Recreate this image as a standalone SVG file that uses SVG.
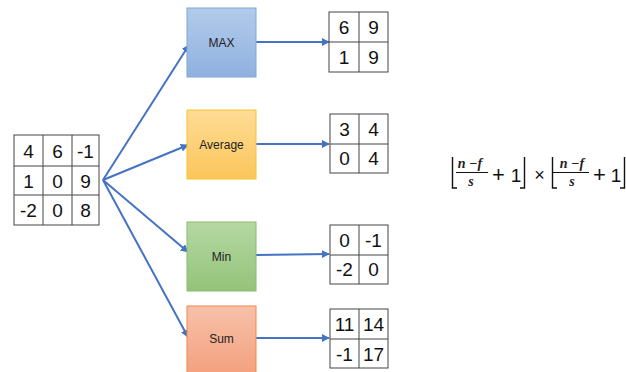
<svg xmlns="http://www.w3.org/2000/svg" width="626" height="372" viewBox="0 0 626 372">
<style>
.g{fill:#fff;stroke:#444;stroke-width:1}
.gl{stroke:#444;stroke-width:1;fill:none}
.n{font-family:"Liberation Sans",Arial,sans-serif;font-size:19px;fill:#111;text-anchor:middle}
.lb{font-family:"Liberation Sans",Arial,sans-serif;font-size:12px;fill:#222;text-anchor:middle}
.c{stroke:#4472c4;stroke-width:2;fill:none;marker-end:url(#ah)}
.m{font-family:"Liberation Sans",Arial,sans-serif;fill:#111;text-anchor:middle}
.mi{font-family:"Liberation Serif","Times New Roman",serif;font-style:italic;font-weight:bold;font-size:14px;fill:#222;text-anchor:middle}
.br{stroke:#111;stroke-width:1.4;fill:none}
.fl{stroke:#111;stroke-width:1}
</style>
<defs>
<marker id="ah" viewBox="0 0 10 10" refX="9" refY="5" markerWidth="4" markerHeight="4" orient="auto" markerUnits="strokeWidth">
<path d="M0,0 L10,5 L0,10 z" fill="#4472c4"/>
</marker>
<linearGradient id="gb" x1="0" y1="0" x2="0" y2="1"><stop offset="0" stop-color="#b3cbeb"/><stop offset="1" stop-color="#8fb1df"/></linearGradient>
<linearGradient id="gy" x1="0" y1="0" x2="0" y2="1"><stop offset="0" stop-color="#fedc96"/><stop offset="1" stop-color="#fbc65a"/></linearGradient>
<linearGradient id="gg" x1="0" y1="0" x2="0" y2="1"><stop offset="0" stop-color="#b6d8a3"/><stop offset="1" stop-color="#93c37a"/></linearGradient>
<linearGradient id="go" x1="0" y1="0" x2="0" y2="1"><stop offset="0" stop-color="#f7c1a9"/><stop offset="1" stop-color="#f4a07e"/></linearGradient>
</defs>

<g id="connectors">
<line class="c" x1="103" y1="180" x2="189" y2="45"/>
<line class="c" x1="103" y1="180" x2="188" y2="145"/>
<line class="c" x1="103" y1="180" x2="188" y2="252"/>
<line class="c" x1="103" y1="180" x2="188" y2="337"/>
<line class="c" x1="256" y1="42" x2="329" y2="42"/>
<line class="c" x1="256" y1="144" x2="329" y2="144"/>
<line class="c" x1="256" y1="255" x2="329" y2="254"/>
<line class="c" x1="256" y1="338" x2="329" y2="338"/>
</g>

<g id="input">
<rect class="g" x="14" y="135" width="85" height="90"/>
<path class="gl" d="M43,135V225M72,135V225M14,166H99M14,195H99"/>
<text class="n" x="28.5" y="158">4</text><text class="n" x="57.5" y="158">6</text><text class="n" x="85.5" y="158">-1</text>
<text class="n" x="28.5" y="188">1</text><text class="n" x="57.5" y="188">0</text><text class="n" x="85.5" y="188">9</text>
<text class="n" x="28.5" y="217">-2</text><text class="n" x="57.5" y="217">0</text><text class="n" x="85.5" y="217">8</text>
</g>

<g id="max">
<rect x="187" y="8" width="69" height="69" fill="url(#gb)" stroke="#7ea6da"/>
<text class="lb" x="221.5" y="47">MAX</text>
</g>
<g id="average">
<rect x="187" y="110" width="69" height="69" fill="url(#gy)" stroke="#f7c232"/>
<text class="lb" x="221.5" y="149">Average</text>
</g>
<g id="min">
<rect x="187" y="222" width="69" height="69" fill="url(#gg)" stroke="#88bd6a"/>
<text class="lb" x="221.5" y="261">Min</text>
</g>
<g id="sum">
<rect x="187" y="306" width="69" height="69" fill="url(#go)" stroke="#f0874f"/>
<text class="lb" x="221.5" y="343">Sum</text>
</g>

<g id="out-max">
<rect class="g" x="329" y="12" width="59" height="60"/>
<path class="gl" d="M359,12V72M329,42H388"/>
<text class="n" x="344" y="34">6</text><text class="n" x="373.5" y="34">9</text>
<text class="n" x="344" y="64">1</text><text class="n" x="373.5" y="64">9</text>
</g>
<g id="out-average">
<rect class="g" x="330" y="114" width="58" height="59"/>
<path class="gl" d="M359,114V173M330,144H388"/>
<text class="n" x="344.5" y="136">3</text><text class="n" x="373.5" y="136">4</text>
<text class="n" x="344.5" y="165">0</text><text class="n" x="373.5" y="165">4</text>
</g>
<g id="out-min">
<rect class="g" x="330" y="225" width="58" height="59"/>
<path class="gl" d="M359,225V284M330,255H388"/>
<text class="n" x="344.5" y="247">0</text><text class="n" x="373.5" y="247">-1</text>
<text class="n" x="344.5" y="276">-2</text><text class="n" x="373.5" y="276">0</text>
</g>
<g id="out-sum">
<rect class="g" x="330" y="309" width="58" height="59"/>
<path class="gl" d="M359,309V368M330,339H388"/>
<text class="n" x="344.5" y="331">11</text><text class="n" x="373.5" y="331">14</text>
<text class="n" x="344.5" y="361">-1</text><text class="n" x="373.5" y="361">17</text>
</g>

<g id="formula">
<path class="br" d="M452.5,157V188H457"/>
<text class="mi" x="470" y="168">n −f</text>
<line class="fl" x1="456" y1="172.5" x2="488" y2="172.5"/>
<text class="mi" x="471" y="186">s</text>
<text class="m" x="498.5" y="182" font-size="22">+</text>
<text class="m" x="516" y="182" font-size="19">1</text>
<path class="br" d="M524.5,157V188H520"/>
<text class="m" x="539.5" y="181" font-size="18">×</text>
<path class="br" d="M552.5,157V188H557"/>
<text class="mi" x="572" y="168">n −f</text>
<line class="fl" x1="553" y1="172.5" x2="589" y2="172.5"/>
<text class="mi" x="572" y="186">s</text>
<text class="m" x="599.5" y="182" font-size="22">+</text>
<text class="m" x="616" y="182" font-size="19">1</text>
<path class="br" d="M624.5,157V188H620"/>
</g>
</svg>
